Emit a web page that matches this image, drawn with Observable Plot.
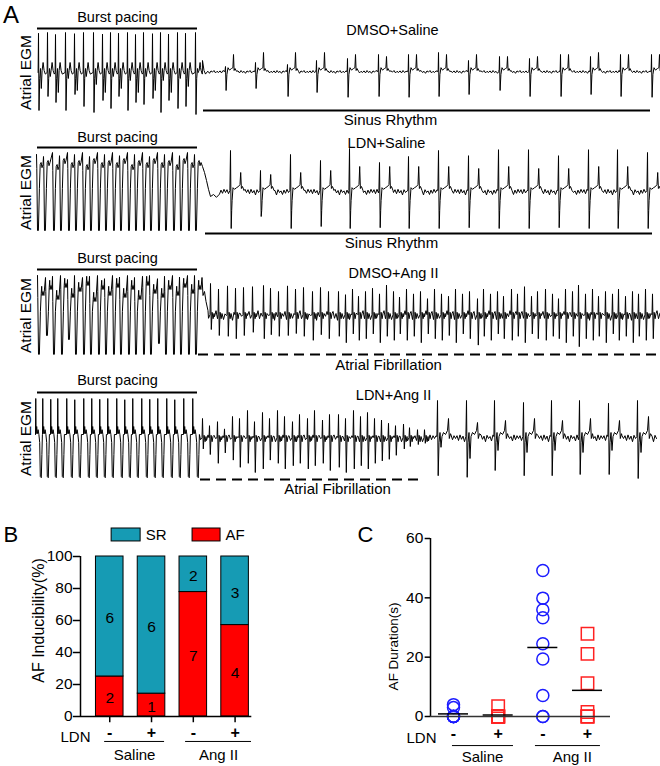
<!DOCTYPE html>
<html><head><meta charset="utf-8">
<script src="https://cdn.jsdelivr.net/npm/d3@7"></script>
<script src="https://cdn.jsdelivr.net/npm/@observablehq/plot@0.6"></script>
<style>
body{margin:0;background:#fff;}
#fig{position:relative;width:660px;height:766px;overflow:hidden;background:#fff;font-family:"Liberation Sans",Arial,Helvetica,sans-serif;}
</style></head><body><div id="fig"></div>
<script>
// ---------------- DATA ----------------
// Panel A: trace labels
const traceNames = ["DMSO+Saline", "LDN+Saline", "DMSO+Ang II", "LDN+Ang II"];
const rhythmLabels = ["Sinus Rhythm", "Sinus Rhythm", "Atrial Fibrillation", "Atrial Fibrillation"];
const rhythmDashed = [false, false, true, true];
const rhythmSpans = [[165, 612], [167, 614], [160, 622], [162, 380]]; // time units
const pacingSpan = [-1, 159];

// Trace 1 (DMSO+Saline): pacing pulses [t, top, bottom, mid-dip]
const pacing1 = [[0,0.98,0.95,0.4],[9,1,0.6,0.1],[17,0.95,0.75,0.5],[27,1,0.95,0.15],[36,0.97,0.55,0.45],[45,1,0.85,0.1],[55,1,1.0,0.3],[64,0.96,0.7,0.5],[72,1,0.9,0.1],[80,0.98,0.6,0.4],[89,1,0.95,0.2],[97,0.95,0.75,0.5],[105,1,0.8,0.1],[114,0.97,0.65,0.45],[122,1,1.0,0.2],[130,0.96,0.7,0.5],[139,1,0.9,0.15],[147,0.98,0.85,0.35],[157,1,1.05,0.0]];
const transition1 = [[160,0.02],[162,0.12],[164,0.3],[165.5,0.05],[167,-0.04]];
// sinus beats [t, up, down, second deflection]
const sinus1 = [[187,0.15,0.45,0.45],[217,0.25,0.4,0.5],[249,0.2,0.6,0.5],[278,0.3,0.5,0.5],[309,0.35,0.62,0.45],[340,0.45,0.6,0.4],[370,0.45,0.62,0.45],[400,0.5,0.6,0.45],[430,0.3,0.55,0.45],[461,0.4,0.45,0.4],[491,0.35,0.6,0.4],[522,0.45,0.6,0.45],[552,0.4,0.55,0.5],[582,0.45,0.6,0.45],[613,0.45,0.62,0.45]];
const wiggle1 = [0.0,0.04,-0.01,0.05,0.0,0.03,-0.02,0.04,0.01,0.05,-0.01,0.03];

// Trace 2 (LDN+Saline): pacing [t, tip, bottom, plateau]
const pacing2 = [[-2,0.95,0.95,0.7],[5,0.9,0.95,0.75],[14,1,0.95,0.65],[21,0.92,0.95,0.8],[29,1,0.95,0.7],[36,0.95,0.95,0.75],[44,1,0.95,0.65],[51,0.9,0.95,0.8],[59,1,0.95,0.7],[66,0.95,0.95,0.75],[74,1,0.95,0.7],[81,0.92,0.95,0.8],[89,1,0.95,0.65],[96,0.95,0.95,0.75],[104,1,0.95,0.7],[111,0.9,0.95,0.8],[119,1,0.95,0.7],[126,0.95,0.95,0.75],[134,1,0.95,0.65],[141,0.92,0.95,0.8],[149,1,0.95,0.7],[156,0.95,0.95,0.75]];
const transition2 = [[164,0.65],[166,0.5],[168,0.3],[170,0.08],[172,-0.1],[175,-0.05],[178,-0.12],[181,-0.04]];
const sinus2 = [[192,1.05,0.9,0.5],[222,0.55,0.6,0.45],[252,0.95,0.9,0.5],[282,0.8,0.85,0.55],[311,1.1,0.9,0.65],[341,0.75,0.88,0.65],[370,0.9,0.9,0.65],[400,1.05,0.9,0.65],[430,0.92,0.88,0.6],[460,1.07,0.9,0.65],[490,1.07,0.9,0.6],[520,0.92,0.88,0.6],[550,1.07,0.9,0.65],[579,1.07,0.9,0.65],[609,1.0,0.9,0.5]];
const wiggle2 = [0.0,0.07,-0.03,0.08,-0.01,0.05,-0.06,0.07,0.0,0.04,-0.05,0.06,-0.02,0.08];

// Trace 3 (DMSO+Ang II): pacing [t, tip, bottom, plateau]
const pacing3 = [[-1,1,0.97,0.55],[7,0.95,0.5,0.7],[14,0.98,0.97,0.45],[22,1,0.97,0.75],[29,0.9,0.6,0.5],[36,1,0.97,0.65],[44,0.95,0.97,0.8],[51,0.98,0.97,0.4],[59,1,0.97,0.7],[66,0.92,0.97,0.55],[74,1,0.97,0.75],[81,0.96,0.97,0.5],[89,1,0.97,0.7],[96,0.95,0.97,0.45],[104,0.98,0.97,0.8],[111,1,0.97,0.6],[119,0.92,0.7,0.5],[126,0.98,0.97,0.7],[134,1,0.97,0.55],[141,0.96,0.97,0.75],[149,1,0.97,0.6],[156,1,0.97,0.7]];
const transition3 = [[163.5,0.95],[164.5,0.5],[166,0.6],[167.5,0.35],[169.5,0.12]];
// AF spikes [t, up, down]
const af3 = [[172,0.8,0.35],[180,0.66,0.5],[189,0.74,0.52],[197,0.68,0.58],[205,0.7,0.5],[214,0.72,0.42],[225,0.75,0.58],[232,0.68,0.48],[240,0.6,0.52],[249,0.74,0.5],[257,0.66,0.45],[265,0.7,0.52],[274,0.6,0.62],[282,0.7,0.48],[290,0.6,0.58],[300,0.6,0.52],[307,0.52,0.68],[314,0.66,0.46],[320,0.48,0.62],[327,0.6,0.58],[334,0.68,0.46],[341,0.54,0.68],[348,0.76,0.52],[355,0.6,0.62],[361,0.46,0.46],[368,0.66,0.62],[375,0.54,0.52],[382,0.6,0.68],[389,0.42,0.46],[396,0.66,0.58],[403,0.54,0.62],[410,0.48,0.5],[417,0.66,0.68],[424,0.54,0.46],[431,0.6,0.58],[439,0.42,0.74],[445,0.66,0.52],[452,0.54,0.62],[459,0.6,0.46],[465,0.48,0.58],[473,0.66,0.62],[479,0.54,0.52],[486,0.72,0.68],[493,0.48,0.46],[499,0.6,0.58],[507,0.66,0.62],[514,0.54,0.52],[520,0.42,0.58],[527,0.66,0.68],[534,0.6,0.52],[540,0.76,0.78],[547,0.54,0.58],[554,0.66,0.62],[560,0.48,0.52],[567,0.6,0.68],[574,0.54,0.46],[580,0.66,0.62],[587,0.48,0.52],[594,0.6,0.68],[600,0.54,0.52],[607,0.66,0.62],[614,0.54,0.58]];
const wiggle3 = [0.0,0.1,-0.07,0.05,-0.12,0.08,-0.03,0.12,-0.08,0.06,-0.02,0.1,-0.1,0.04];

// Trace 4 (LDN+Ang II): pacing [t, top]
const pacing4 = [[-3,1],[4,1],[12,0.98],[19,1],[28,1],[36,0.97],[45,1],[53,1],[61,0.98],[69,1],[78,1],[86,0.97],[94,1],[103,1],[111,0.98],[119,1],[128,1],[136,0.97],[145,1],[154,1]];
const af4 = [[164,0.5,0.26],[171,0.32,0.4],[179,0.42,0.62],[186,0.24,0.36],[194,0.55,0.54],[201,0.5,0.72],[209,0.7,0.62],[216,0.42,0.85],[224,0.65,0.76],[231,0.5,0.54],[239,0.7,0.62],[246,0.55,0.76],[254,0.42,0.68],[261,0.6,0.62],[269,0.5,0.76],[276,0.7,0.68],[284,0.46,0.62],[291,0.6,0.8],[300,0.6,0.72],[307,0.5,0.85],[315,0.7,0.76],[322,0.55,0.68],[329,0.65,0.76],[336,0.5,0.62],[343,0.46,0.56],[350,0.38,0.52],[357,0.32,0.42],[365,0.36,0.26],[371,0.27,0.2],[379,0.22,0.15],[386,0.22,0.12]];
// sinus beats [t, up, down, notch, second]
const sinus4 = [[399,0.95,0.93,0.22,0.5],[428,0.95,0.97,0.5,0.4],[456,0.95,0.8,0.3,0.45],[485,0.9,0.93,0.35,0.5],[513,0.95,0.93,0.3,0.45],[541,0.95,0.9,0.35,0.5],[570,0.88,0.9,0.3,0.45],[599,0.95,1.0,0.35,0.55]];
const wiggle4 = [0.0,0.07,-0.05,0.09,-0.02,0.06,-0.08,0.08,0.0,0.05,-0.06,0.09,-0.03,0.07];

// Panel B
const bLDN = ["-", "+", "-", "+"];
const bGroups = ["Saline", "Ang II"];
const afCount = [2, 1, 7, 4];
const srCount = [6, 6, 2, 3];
const bTicks = [0, 20, 40, 60, 80, 100];

// Panel C: AF duration (s) per animal
const cSalineMinus = [4.0, 3.0, 0, 0, 0, 0, 0, 0];
const cSalinePlus = [3.5, 0, 0, 0, 0, 0, 0];
const cAngMinus = [49.2, 39.9, 36.0, 33.3, 24.5, 19.4, 7.1, 0, 0];
const cAngPlus = [27.9, 21.1, 11.2, 1.5, 0, 0, 0];
const cTicks = [0, 20, 40, 60];

// ---------------- STYLE / LAYOUT ----------------
const FONT = '"Liberation Sans", Arial, Helvetica, sans-serif';
const TEAL = "#169bb4", RED = "#ff0000", BLUE = "#1c1cff", SQRED = "#ff2222";
const fig = document.getElementById("fig");
function place(svg, left, top) {
  svg.style.position = "absolute";
  svg.style.left = left + "px";
  svg.style.top = top + "px";
  fig.appendChild(svg);
}
const baseStyle = {background: "transparent", overflow: "visible", fontFamily: FONT, fontSize: "15px", color: "#000"};

// waveform templates (offsets, shape)
const sh = (t0, pts) => pts.map(([dt, v]) => [t0 + dt, v]);
function buildTrace(t0, t1, wiggle, step, blocks) {
  const spans = blocks.map(b => [b[0][0], b[b.length - 1][0]]);
  const pts = [];
  for (let i = 0; t0 + i * step <= t1; i++) {
    const t = t0 + i * step;
    if (!spans.some(([a, b]) => t >= a - 0.3 && t <= b + 0.3)) pts.push([t, wiggle[i % wiggle.length]]);
  }
  for (const b of blocks) pts.push(...b);
  pts.sort((a, b) => a[0] - b[0]);
  return pts.map(([t, v]) => ({t, v}));
}
const afShape = ([t, up, dn]) => sh(t, [[-0.5,0.02],[0,up],[0.8,-dn],[1.6,0.08],[2.6,-0.08],[3.5,0.05]]);

const trace1 = buildTrace(0, 619, wiggle1, 1.5, [
  pacing1.flatMap(([t, top, bot, mid]) => sh(t, [[-0.4,0],[0,top],[0.5,-bot],[1.2,-0.15],[2,0.1],[2.8,-mid],[3.6,0.05],[4.6,0.25],[5.6,0.05],[6.8,-0.04]])).concat(transition1),
  ...sinus1.map(([t, up, dn, sec]) => sh(t, [[-0.8,0.02],[-0.3,0.08],[0,up],[0.6,-dn],[1.4,-0.05],[2.5,0.12],[4,0.06],[6,0.1],[7.4,0.12],[8,sec],[8.6,0.05],[9.5,0.1],[11,0.03]]))
]);
const trace2 = buildTrace(-2, 619, wiggle2, 1.5, [
  pacing2.flatMap(([t, tip, bot, h]) => sh(t, [[0,tip],[0.3,h-0.1],[1.0,-bot],[1.9,-bot],[2.9,0.1],[3.7,h],[4.6,h+0.05],[5.5,h-0.08],[6.5,h]])).concat(transition2),
  ...sinus2.map(([t, up, dn, sec]) => sh(t, [[-0.6,0.05],[0,up],[0.7,-dn],[1.2,-0.45],[1.6,-0.2],[2.5,0.12],[4,0.08],[6,0.12],[8,0.15],[9.5,0.2],[10.2,sec],[10.9,0.1],[12,0.15],[13.5,0.05]]))
]);
const trace3 = buildTrace(-1, 622, wiggle3, 1.5, [
  pacing3.flatMap(([t, tip, bot, h]) => sh(t, [[0,tip],[0.3,h-0.1],[1.0,-bot],[1.9,-bot],[2.9,0.1],[3.7,h],[4.2,h+0.18],[4.6,h-0.05],[5.5,h+0.05],[6.4,h-0.05]])).concat(transition3),
  ...af3.map(afShape)
]);
const trace4 = buildTrace(-3, 619, wiggle4, 1.5, [
  pacing4.flatMap(([t, top]) => sh(t, [[0,0.1],[0.25,top],[0.6,0.12],[1.2,0.3],[1.8,0.12],[2.6,0.22],[3.4,0.1],[4.2,-0.1],[4.8,-0.95],[5.8,-0.98],[6.4,-0.4],[6.9,0.1]])),
  ...af4.map(afShape),
  ...sinus4.map(([t, up, dn, notch, sec]) => sh(t, [[-0.6,0.05],[0,up],[0.7,-dn],[1.5,-0.1],[2.5,0.15],[3.5,-notch],[4.5,0.05],[6,0.15],[8,0.1],[10,0.2],[11,sec],[11.8,0.0],[13,0.12]]))
]);
const tracePts = [trace1, trace2, trace3, trace4];

// per-row layout (y in trace units, 40 px per unit, baseline 0)
const rowTops = [0, 120, 243, 366];
const rowLayout = [
  {burstY: 1.375, barY: 1.1, nameX: 354, nameY: 1.05, lineY: -0.95, textX: 352, textY: -1.2},
  {burstY: 1.375, barY: 1.125, nameX: 348, nameY: 1.225, lineY: -1.025, textX: 353, textY: -1.275},
  {burstY: 1.425, barY: 1.15, nameX: 355, nameY: 1.05, lineY: -0.975, textX: 350, textY: -1.25},
  {burstY: 1.45, barY: 1.15, nameX: 355, nameY: 1.075, lineY: -1.025, textX: 299, textY: -1.275}
];

tracePts.forEach((pts, k) => {
  const L = rowLayout[k];
  const marks = [
    Plot.line(pts, {x: "t", y: "v", stroke: "#000", strokeWidth: 1}),
    Plot.ruleY([L.barY], {x1: pacingSpan[0], x2: pacingSpan[1], strokeWidth: 2}),
    Plot.text(["Burst pacing"], {x: (pacingSpan[0] + pacingSpan[1]) / 2, y: L.burstY, text: d => d, fontSize: 14.5}),
    Plot.text([traceNames[k]], {x: L.nameX, y: L.nameY, text: d => d, fontSize: 14.5}),
    Plot.ruleY([L.lineY], Object.assign({x1: rhythmSpans[k][0], x2: rhythmSpans[k][1], strokeWidth: 2}, rhythmDashed[k] ? {strokeDasharray: "10,6"} : {})),
    Plot.text([rhythmLabels[k]], {x: L.textX, y: L.textY, text: d => d, fontSize: 15}),
    Plot.text(["Atrial EGM"], {x: -12, y: 0, rotate: -90, text: d => d, fontSize: 15.5})
  ];
  if (k === 0) marks.push(Plot.text(["A"], {x: -27.5, y: 1.43, text: d => d, fontSize: 24}));
  const svg = Plot.plot({
    width: 660, height: 130, marginLeft: 38, marginRight: 0, marginTop: 0, marginBottom: 0,
    x: {domain: [0, 622], axis: null},
    y: {domain: [-1.45, 1.8], axis: null},
    style: baseStyle,
    marks
  });
  place(svg, 0, rowTops[k]);
});

// ---------------- PANEL B ----------------
const bPos = [1, 2, 3, 4];
const bRows = bPos.map((p, i) => ({p, af: afCount[i], sr: srCount[i], pct: afCount[i] / (afCount[i] + srCount[i]) * 100}));
const bx0 = 0.30, bx1 = 4.68;
const svgB = Plot.plot({
  width: 270, height: 266, marginLeft: 80, marginRight: 7, marginTop: 56, marginBottom: 50,
  x: {domain: [bx0, bx1], axis: null},
  y: {domain: [0, 100], axis: null},
  style: baseStyle,
  marks: [
    Plot.rect(bRows, {x1: d => d.p - 0.33, x2: d => d.p + 0.33, y1: 0, y2: "pct", fill: RED, stroke: "#000", strokeWidth: 1}),
    Plot.rect(bRows, {x1: d => d.p - 0.33, x2: d => d.p + 0.33, y1: "pct", y2: 100, fill: TEAL, stroke: "#000", strokeWidth: 1}),
    Plot.text(bRows, {x: "p", y: d => d.pct / 2, text: d => String(d.af), fontSize: 15.5, dy: 2}),
    Plot.text(bRows, {x: "p", y: d => (d.pct + 100) / 2, text: d => String(d.sr), fontSize: 15.5, dy: 2}),
    Plot.ruleX([bx0], {y1: 0, y2: 100, strokeWidth: 1.5}),
    // y ticks + labels
    Plot.ruleY(bTicks, {x1: bx0 - 0.17, x2: bx0, strokeWidth: 1.5}),
    Plot.text(bTicks, {x: bx0 - 0.19, y: d => d, text: d => String(d), textAnchor: "end", fontSize: 15.5}),
    Plot.ruleY([0], {x1: bx0, x2: 4.4, strokeWidth: 1.5}),
    Plot.ruleX(bPos, {y1: 0, y2: -3.9, strokeWidth: 1.5}),
    Plot.text(bPos, {x: d => d, y: -10, text: (d, i) => bLDN[i], fontSize: 16, fontWeight: "bold"}),
    Plot.text(["LDN"], {x: 0.18, y: -13.1, text: d => d, fontSize: 15}),
    Plot.ruleY([-15.6], {x1: 0.878, x2: 2.312, strokeWidth: 1}),
    Plot.ruleY([-15.6], {x1: 2.815, x2: 4.393, strokeWidth: 1}),
    Plot.text([bGroups[0]], {x: 1.595, y: -24.4, text: d => d, fontSize: 15}),
    Plot.text([bGroups[1]], {x: 3.604, y: -24.4, text: d => d, fontSize: 15}),
    Plot.text(["AF Inducibility(%)"], {x: -0.70, y: 60, rotate: -90, text: d => d, fontSize: 16}),
    // legend
    Plot.rect(["SR"], {x1: 1.045, x2: 1.739, y1: 109.4, y2: 117.5, fill: TEAL, stroke: "#000", strokeWidth: 1}),
    Plot.text(["SR"], {x: 1.86, y: 113.4, text: d => d, textAnchor: "start", fontSize: 15}),
    Plot.rect(["AF"], {x1: 2.982, x2: 3.652, y1: 109.4, y2: 117.5, fill: RED, stroke: "#000", strokeWidth: 1}),
    Plot.text(["AF"], {x: 3.77, y: 113.4, text: d => d, textAnchor: "start", fontSize: 15}),
    Plot.text(["B"], {x: -1.37, y: 113.4, text: d => d, fontSize: 22})
  ]
});
place(svgB, 0, 500);

// ---------------- PANEL C ----------------
const cx0 = 0.485, cx1 = 4.515;
const cSets = [cSalineMinus, cSalinePlus, cAngMinus, cAngPlus];
const cPoints = cSets.flatMap((arr, i) => arr.map(v => ({p: i + 1, v})));
const circles = cPoints.filter(d => d.p === 1 || d.p === 3);
const squares = cPoints.filter(d => d.p === 2 || d.p === 4);
const cMeans = cSets.map((arr, i) => ({p: i + 1, m: d3.mean(arr)}));
const svgC = Plot.plot({
  width: 330, height: 266, marginLeft: 100, marginRight: 50, marginTop: 38, marginBottom: 50,
  x: {domain: [cx0, cx1], axis: null},
  y: {domain: [0, 60], axis: null},
  style: baseStyle,
  marks: [
    Plot.ruleX([cx0], {y1: 0, y2: 60, strokeWidth: 1.5}),
    Plot.ruleY(cTicks, {x1: cx0 - 0.12, x2: cx0, strokeWidth: 1.5}),
    Plot.text(cTicks, {x: cx0 - 0.16, y: d => d, text: d => String(d), textAnchor: "end", fontSize: 15.5}),
    Plot.dot(circles, {x: "p", y: "v", r: 6, stroke: BLUE, strokeWidth: 1.5}),
    Plot.dot(squares, {x: "p", y: "v", r: 7, symbol: "square", stroke: SQRED, strokeWidth: 1.5}),
    Plot.ruleY(cMeans, {x1: d => d.p - 0.336, x2: d => d.p + 0.336, y: "m", stroke: "#000", strokeWidth: 1.5}),
    Plot.ruleY([0], {x1: cx0, x2: cx1, stroke: "#333", strokeWidth: 1.5}),
    Plot.text(bPos, {x: d => d, y: -6, text: (d, i) => bLDN[i], fontSize: 16, fontWeight: "bold"}),
    Plot.text(["LDN"], {x: 0.284, y: -7.4, text: d => d, fontSize: 15}),
    Plot.ruleY([-9.8], {x1: 0.977, x2: 2.343, strokeWidth: 1}),
    Plot.ruleY([-9.8], {x1: 2.835, x2: 4.29, strokeWidth: 1}),
    Plot.text([bGroups[0]], {x: 1.65, y: -13.8, text: d => d, fontSize: 15}),
    Plot.text([bGroups[1]], {x: 3.66, y: -13.8, text: d => d, fontSize: 15}),
    Plot.text(["AF Duration(s)"], {x: -0.343, y: 23.6, rotate: -90, text: d => d, fontSize: 13.5}),
    Plot.text(["C"], {x: -0.97, y: 61.3, text: d => d, fontSize: 22})
  ]
});
place(svgC, 330, 500);
</script></body></html>
